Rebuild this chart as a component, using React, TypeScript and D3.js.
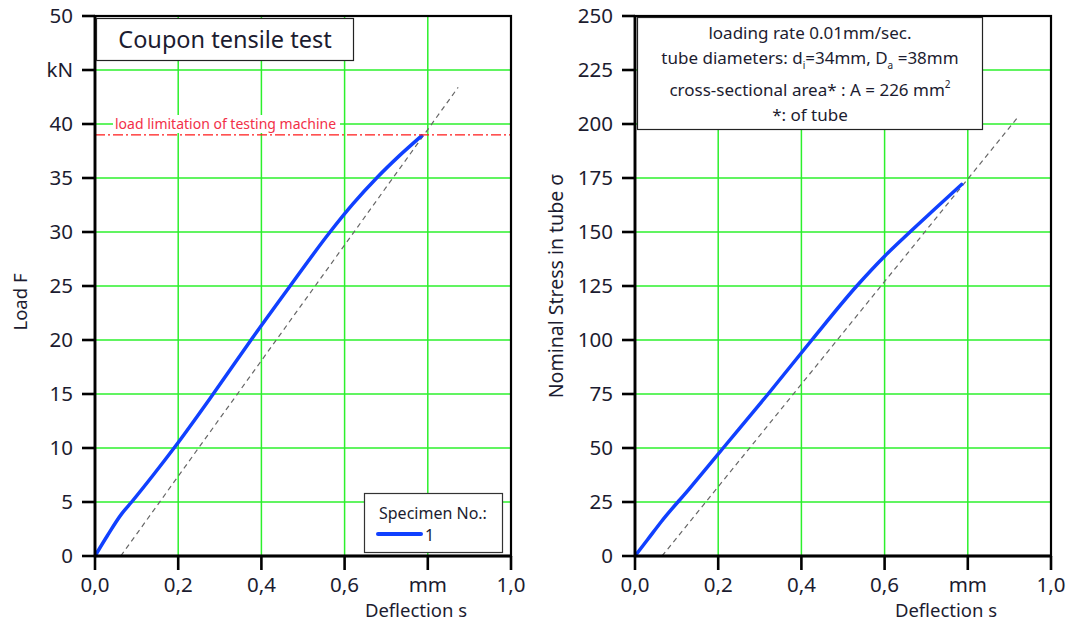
import React, { useEffect, useRef } from 'react';
import * as d3 from 'd3';

// measured curve, specimen 1 (left: load, right: nominal stress)
const loadDefl = [0, 0.03, 0.064, 0.088, 0.14, 0.19, 0.284, 0.375, 0.469, 0.565, 0.62, 0.677, 0.73, 0.785];
const loadKN = [0, 1.9, 3.9, 5, 7.5, 10, 15, 20, 25, 30, 32.6, 35, 37, 38.9];
const stressDefl = [0, 0.03, 0.064, 0.13, 0.212, 0.32, 0.425, 0.533, 0.6, 0.661, 0.72, 0.785];
const stressMPa = [0, 7.5, 16.1, 31, 50, 75, 100, 125, 138.8, 150, 160.5, 172];

// dashed reference (elastic offset) lines
const loadRefDefl = [0.062, 0.873];
const loadRefKN = [0, 43.4];
const stressRefDefl = [0.065, 0.921];
const stressRefMPa = [0, 203.3];

const loadLimit = 39;

const deflTicks = [0, 0.2, 0.4, 0.6, 0.8, 1.0];
const deflTickLabels = ['0,0', '0,2', '0,4', '0,6', 'mm', '1,0'];
const loadTicks = [0, 5, 10, 15, 20, 25, 30, 35, 40, 45, 50];
const loadTickLabels = ['0', '5', '10', '15', '20', '25', '30', '35', '40', 'kN', '50'];
const stressTicks = [0, 25, 50, 75, 100, 125, 150, 175, 200, 225, 250];

const FONT = '"Noto Sans", "Open Sans", sans-serif';
const TXT = '#1c1c30';
const GRID = '#2cf02c';
const BLUE = '#1040ff';

function drawPanel(svg, o) {
  const top = 16, bottom = 556;
  const x = d3.scaleLinear().domain([0, 1]).range([o.left, o.left + 416]);
  const y = d3.scaleLinear().domain([0, o.yMax]).range([bottom, top]);
  const g = svg.append('g');

  // grid
  g.selectAll('.hg').data(o.yTicks.slice(1, -1)).join('line')
    .attr('x1', x(0)).attr('x2', x(1)).attr('y1', d => y(d)).attr('y2', d => y(d))
    .attr('stroke', GRID).attr('stroke-width', 1.5);
  g.selectAll('.vg').data(deflTicks.slice(1, -1)).join('line')
    .attr('y1', y(0)).attr('y2', y(o.yMax)).attr('x1', d => x(d)).attr('x2', d => x(d))
    .attr('stroke', GRID).attr('stroke-width', 1.5);

  // dashed reference line
  const ref = o.refX.map((d, i) => [d, o.refY[i]]);
  g.append('path').datum(ref)
    .attr('d', d3.line().x(d => x(d[0])).y(d => y(d[1])))
    .attr('fill', 'none').attr('stroke', '#666').attr('stroke-width', 1.2).attr('stroke-dasharray', '5,4');

  // measured curve
  const pts = o.xs.map((d, i) => [d, o.ys[i]]);
  g.append('path').datum(pts)
    .attr('d', d3.line().x(d => x(d[0])).y(d => y(d[1])).curve(d3.curveMonotoneX))
    .attr('fill', 'none').attr('stroke', BLUE).attr('stroke-width', 3.5).attr('stroke-linecap', 'round');

  if (o.limit != null) {
    g.append('rect').attr('x', 113).attr('y', y(40) - 9).attr('width', 227).attr('height', 18).attr('fill', '#fff');
    g.append('text').attr('x', 115).attr('y', y(40)).attr('dy', '0.35em')
      .attr('font-family', FONT).attr('font-size', 14).attr('fill', '#f23048')
      .text('load limitation of testing machine');
    g.append('line').attr('x1', x(0)).attr('x2', x(1)).attr('y1', y(o.limit)).attr('y2', y(o.limit))
      .attr('stroke', '#ff1a1a').attr('stroke-width', 1.3).attr('stroke-dasharray', '10,3,2,3');
  }

  // frame
  g.append('rect').attr('x', x(0)).attr('y', y(o.yMax)).attr('width', x(1) - x(0)).attr('height', y(0) - y(o.yMax))
    .attr('fill', 'none').attr('stroke', '#000').attr('stroke-width', 2.2);
  g.append('line').attr('x1', x(0)).attr('x2', x(0)).attr('y1', y(0) + 1).attr('y2', y(o.yMax) - 1)
    .attr('stroke', '#000').attr('stroke-width', 2.8);
  g.append('line').attr('x1', x(0) - 1).attr('x2', x(1) + 1).attr('y1', y(0)).attr('y2', y(0))
    .attr('stroke', '#000').attr('stroke-width', 2.8);

  // y axis ticks + labels
  g.selectAll('.yt').data(o.yTicks).join('line')
    .attr('x1', x(0) - 13).attr('x2', x(0)).attr('y1', d => y(d)).attr('y2', d => y(d))
    .attr('stroke', '#000').attr('stroke-width', 2.6);
  g.selectAll('.yl').data(o.yTicks).join('text')
    .attr('x', x(0) - 22).attr('y', d => y(d)).attr('dy', '0.35em').attr('text-anchor', 'end')
    .attr('font-family', FONT).attr('font-size', 20.5).attr('fill', TXT)
    .text((d, i) => o.yLabels[i]);

  // x axis ticks + labels
  g.selectAll('.xt').data(deflTicks).join('line')
    .attr('x1', d => x(d)).attr('x2', d => x(d)).attr('y1', y(0)).attr('y2', y(0) + 14)
    .attr('stroke', '#000').attr('stroke-width', 2.6);
  g.selectAll('.xl').data(deflTicks).join('text')
    .attr('x', d => x(d)).attr('y', 585).attr('dy', '0.35em').attr('text-anchor', 'middle')
    .attr('font-family', FONT).attr('font-size', 20.5).attr('fill', TXT)
    .text((d, i) => deflTickLabels[i]);

  g.append('text').attr('x', o.xTitleX).attr('y', 611).attr('dy', '0.35em').attr('text-anchor', 'middle')
    .attr('font-family', FONT).attr('font-size', 18.5).attr('fill', TXT).text('Deflection s');

  g.append('text').attr('transform', `translate(${o.yTitleX},${o.yTitleY}) rotate(-90)`)
    .attr('dy', '0.35em').attr('text-anchor', 'middle')
    .attr('font-family', FONT).attr('font-size', o.yTitleSize).attr('fill', TXT).text(o.yTitle);

  return g;
}

export default function App() {
  const ref = useRef(null);

  useEffect(() => {
    const svg = d3.select(ref.current);
    svg.selectAll('*').remove();

    const left = drawPanel(svg, {
      left: 95, yMax: 50, yTicks: loadTicks, yLabels: loadTickLabels,
      xs: loadDefl, ys: loadKN, refX: loadRefDefl, refY: loadRefKN, limit: loadLimit,
      xTitleX: 416, yTitle: 'Load F', yTitleX: 21, yTitleY: 302, yTitleSize: 18.5,
    });

    // title box
    left.append('rect').attr('x', 96.5).attr('y', 18.5).attr('width', 257).attr('height', 42)
      .attr('fill', '#fff').attr('stroke', '#222').attr('stroke-width', 1.2);
    left.append('text').attr('x', 225).attr('y', 40).attr('dy', '0.35em').attr('text-anchor', 'middle')
      .attr('font-family', FONT).attr('font-size', 23.5).attr('fill', TXT).text('Coupon tensile test');

    // legend
    left.append('rect').attr('x', 364.5).attr('y', 493.5).attr('width', 138).attr('height', 59)
      .attr('fill', '#fff').attr('stroke', '#333').attr('stroke-width', 1.2);
    left.append('text').attr('x', 379).attr('y', 513).attr('dy', '0.35em')
      .attr('font-family', FONT).attr('font-size', 16).attr('fill', TXT).text('Specimen No.:');
    left.append('line').attr('x1', 378).attr('x2', 421).attr('y1', 534).attr('y2', 534)
      .attr('stroke', BLUE).attr('stroke-width', 4).attr('stroke-linecap', 'round');
    left.append('text').attr('x', 425).attr('y', 535).attr('dy', '0.35em')
      .attr('font-family', FONT).attr('font-size', 16).attr('fill', TXT).text('1');

    const right = drawPanel(svg, {
      left: 635, yMax: 250, yTicks: stressTicks, yLabels: stressTicks.map(String),
      xs: stressDefl, ys: stressMPa, refX: stressRefDefl, refY: stressRefMPa, limit: null,
      xTitleX: 946, yTitle: 'Nominal Stress in tube σ', yTitleX: 556, yTitleY: 286, yTitleSize: 19.5,
    });

    // info box
    right.append('rect').attr('x', 637.5).attr('y', 17.5).attr('width', 345).attr('height', 112)
      .attr('fill', '#fff').attr('stroke', '#222').attr('stroke-width', 1.2);
    const fs = 17;
    right.append('text').attr('x', 810).attr('y', 39).attr('text-anchor', 'middle')
      .attr('font-family', FONT).attr('font-size', fs).attr('fill', TXT).text('loading rate 0.01mm/sec.');
    const l2 = right.append('text').attr('x', 810).attr('y', 64).attr('text-anchor', 'middle')
      .attr('font-family', FONT).attr('font-size', fs).attr('fill', TXT);
    l2.append('tspan').text('tube diameters: d');
    l2.append('tspan').attr('font-size', 10).attr('dy', 5).text('i');
    l2.append('tspan').attr('dy', -5).text('=34mm, D');
    l2.append('tspan').attr('font-size', 10).attr('dy', 5).text('a');
    l2.append('tspan').attr('dy', -5).text(' =38mm');
    const l3 = right.append('text').attr('x', 810).attr('y', 96).attr('text-anchor', 'middle')
      .attr('font-family', FONT).attr('font-size', fs).attr('fill', TXT);
    l3.append('tspan').text('cross-sectional area* : A = 226 mm');
    l3.append('tspan').attr('font-size', 10).attr('dy', -8).text('2');
    right.append('text').attr('x', 810).attr('y', 121).attr('text-anchor', 'middle')
      .attr('font-family', FONT).attr('font-size', fs).attr('fill', TXT).text('*: of tube');
  }, []);

  return (
    <svg ref={ref} width="1072" height="624"
      style={{ position: 'absolute', left: 0, top: 0, background: '#fff', display: 'block' }}></svg>
  );
}
